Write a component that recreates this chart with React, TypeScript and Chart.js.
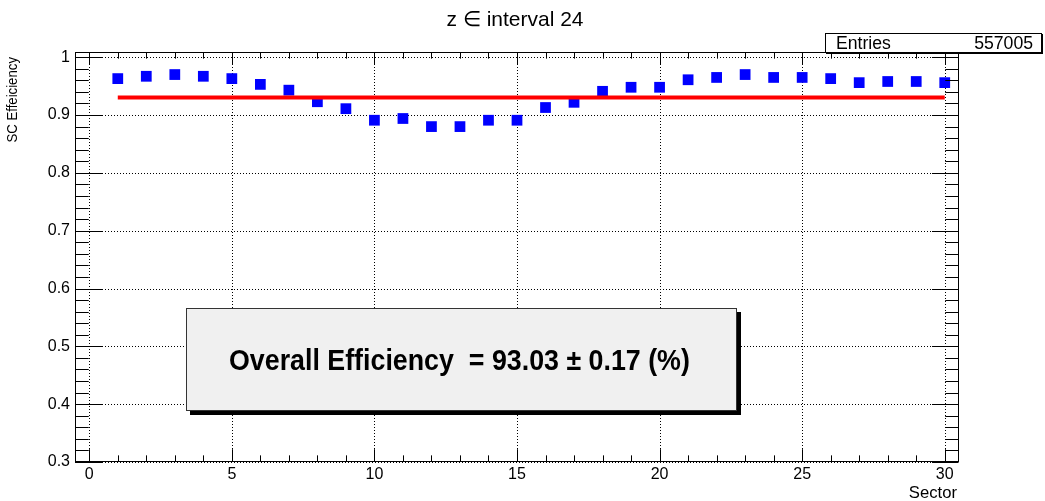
import React, { useEffect, useRef } from "react";
import { Chart, registerables } from "chart.js";

Chart.register(...registerables);

// ---------- data ----------
const SECTORS = [1, 2, 3, 4, 5, 6, 7, 8, 9, 10, 11, 12, 13, 14, 15, 16, 17, 18, 19, 20, 21, 22, 23, 24, 25, 26, 27, 28, 29, 30];
const EFFICIENCY = [
  0.963, 0.967, 0.970, 0.967, 0.963, 0.953, 0.943, 0.923, 0.911, 0.891,
  0.894, 0.880, 0.880, 0.891, 0.891, 0.913, 0.922, 0.941, 0.948, 0.948,
  0.961, 0.965, 0.970, 0.965, 0.965, 0.963, 0.956, 0.958, 0.958, 0.956,
];
const FIT_X = [1, 30];
const OVERALL_EFF = 0.9303;

const X_TICKS = [0, 5, 10, 15, 20, 25, 30];
const X_TICK_LABELS = ["0", "5", "10", "15", "20", "25", "30"];
const Y_TICKS = [0.3, 0.4, 0.5, 0.6, 0.7, 0.8, 0.9, 1.0];
const Y_TICK_LABELS = ["0.3", "0.4", "0.5", "0.6", "0.7", "0.8", "0.9", "1"];

const X_MIN = -0.5;
const X_MAX = 30.5;
const Y_MIN = 0.3;
const Y_MAX = 1.009;

const TITLE = "z \u2208 interval 24";
const X_TITLE = "Sector";
const Y_TITLE = "SC Effeiciency";
const STATS_LABEL = "Entries";
const STATS_VALUE = "557005";
const RESULT_TEXT = "Overall Efficiency  = 93.03 \u00B1 0.17 (%)";

const FONT = "'Liberation Sans', Arial, Helvetica, sans-serif";

function drawText(
  ctx: CanvasRenderingContext2D,
  text: string,
  x: number,
  y: number,
  font: string,
  align: CanvasTextAlign,
  sx: number,
  baseline: CanvasTextBaseline = "alphabetic"
) {
  ctx.save();
  ctx.font = font;
  ctx.fillStyle = "#000";
  ctx.textAlign = align;
  ctx.textBaseline = baseline;
  ctx.translate(x, y);
  ctx.scale(sx, 1);
  ctx.fillText(text, 0, 0);
  ctx.restore();
}

const rootStyle = {
  id: "rootStyle",
  beforeDatasetsDraw(chart: any) {
    const ctx: CanvasRenderingContext2D = chart.ctx;
    const { left, right, top, bottom } = chart.chartArea;
    const xs = chart.scales.x;
    const ys = chart.scales.y;
    ctx.save();
    ctx.strokeStyle = "#000";
    ctx.lineWidth = 1;
    ctx.setLineDash([1, 2]);
    for (const v of X_TICKS) {
      const px = Math.round(xs.getPixelForValue(v)) + 0.5;
      ctx.beginPath();
      ctx.moveTo(px, top);
      ctx.lineTo(px, bottom);
      ctx.stroke();
    }
    for (const v of Y_TICKS) {
      const py = Math.round(ys.getPixelForValue(v)) + 0.5;
      ctx.beginPath();
      ctx.moveTo(left, py);
      ctx.lineTo(right, py);
      ctx.stroke();
    }
    ctx.restore();
  },
  afterDatasetsDraw(chart: any) {
    const ctx: CanvasRenderingContext2D = chart.ctx;
    const { left, right, top, bottom } = chart.chartArea;
    const xs = chart.scales.x;
    const ys = chart.scales.y;
    const W = right - left;
    const H = bottom - top;
    const xMajor = 0.03 * H;
    const yMajor = 0.03 * W;

    ctx.save();
    ctx.strokeStyle = "#000";
    ctx.lineWidth = 1;
    ctx.setLineDash([]);
    // frame
    const fl = Math.round(left) + 0.5;
    const fr = Math.round(right) - 0.5;
    const ft = Math.round(top) + 0.5;
    const fb = Math.round(bottom) - 0.5;
    ctx.strokeRect(fl, ft, fr - fl, fb - ft);

    // x ticks (bottom and top)
    ctx.beginPath();
    for (let k = 0; k <= 30; k++) {
      const px = Math.round(xs.getPixelForValue(k)) + 0.5;
      const len = k % 5 === 0 ? xMajor : xMajor / 2;
      ctx.moveTo(px, fb);
      ctx.lineTo(px, fb - len);
      ctx.moveTo(px, ft);
      ctx.lineTo(px, ft + len);
    }
    // y ticks (left and right)
    for (let k = 0; k <= 40; k++) {
      const v = Y_MIN + k * 0.02;
      if (v > Y_MAX + 1e-9) break;
      const py = Math.round(ys.getPixelForValue(v)) + 0.5;
      const len = k % 5 === 0 ? yMajor : yMajor / 2;
      ctx.moveTo(fl, py);
      ctx.lineTo(fl + len, py);
      ctx.moveTo(fr, py);
      ctx.lineTo(fr - len, py);
    }
    ctx.stroke();

    // result box with shadow
    const bx = 186, by = 308, bw = 551, bh = 103, sh = 4;
    ctx.fillStyle = "#000";
    ctx.fillRect(bx + sh, by + sh, bw, bh);
    ctx.fillStyle = "#f0f0f0";
    ctx.fillRect(bx, by, bw, bh);
    ctx.strokeStyle = "#333";
    ctx.lineWidth = 1;
    ctx.strokeRect(bx + 0.5, by + 0.5, bw - 1, bh - 1);
    drawText(ctx, RESULT_TEXT, 229, 370, `bold 29px ${FONT}`, "left", 0.924);

    // stats box
    const sx0 = 825, sy0 = 33, sw = 217, shh = 20;
    ctx.fillStyle = "#000";
    ctx.fillRect(sx0 + 1, sy0 + 1, sw, shh);
    ctx.fillStyle = "#fff";
    ctx.fillRect(sx0, sy0, sw, shh);
    ctx.strokeStyle = "#000";
    ctx.strokeRect(sx0 + 0.5, sy0 + 0.5, sw - 1, shh - 1);
    drawText(ctx, STATS_LABEL, 836, 49, `18px ${FONT}`, "left", 0.98);
    drawText(ctx, STATS_VALUE, 1033, 49, `18px ${FONT}`, "right", 0.98);

    // title
    drawText(ctx, TITLE, 515, 26, `21px ${FONT}`, "center", 1);
    // x title
    drawText(ctx, X_TITLE, 957, 498, `17px ${FONT}`, "right", 0.98);
    // y title (rotated)
    ctx.save();
    ctx.translate(13, 57);
    ctx.rotate(-Math.PI / 2);
    ctx.scale(0.88, 1);
    ctx.font = `15px ${FONT}`;
    ctx.fillStyle = "#000";
    ctx.textAlign = "right";
    ctx.textBaseline = "middle";
    ctx.fillText(Y_TITLE, 0, 0);
    ctx.restore();

    ctx.restore();
  },
};

export default function App() {
  const canvasRef = useRef<HTMLCanvasElement | null>(null);

  useEffect(() => {
    const canvas = canvasRef.current;
    if (!canvas) return;
    const chart = new Chart(canvas, {
      type: "scatter",
      data: {
        datasets: [
          {
            type: "line",
            label: "Overall",
            data: FIT_X.map((x) => ({ x, y: OVERALL_EFF })),
            borderColor: "#ff0000",
            backgroundColor: "#ff0000",
            borderWidth: 4,
            pointRadius: 0,
            fill: false,
            order: 0,
          } as any,
          {
            type: "scatter",
            label: "Efficiency",
            data: SECTORS.map((s, i) => ({ x: s, y: EFFICIENCY[i] })),
            pointStyle: "rect",
            pointRadius: 7.6,
            pointHoverRadius: 7.6,
            backgroundColor: "#0000ff",
            borderWidth: 0,
            order: 1,
          } as any,
        ],
      },
      options: {
        animation: false,
        responsive: false,
        maintainAspectRatio: false,
        devicePixelRatio: 1,
        layout: { padding: { top: 52, right: 86, left: 0, bottom: 0 } },
        plugins: {
          legend: { display: false },
          tooltip: { enabled: false },
          title: { display: false },
        },
        scales: {
          x: {
            type: "linear",
            min: X_MIN,
            max: X_MAX,
            afterBuildTicks: (s: any) => {
              s.ticks = X_TICKS.map((v) => ({ value: v }));
            },
            afterFit: (s: any) => {
              s.height = 39;
            },
            grid: { display: false, drawTicks: false },
            border: { display: false },
            ticks: {
              autoSkip: false,
              maxRotation: 0,
              padding: 3,
              color: "#000",
              font: { family: FONT, size: 16 },
              callback: (_v: any, i: number) => X_TICK_LABELS[i],
            },
          },
          y: {
            type: "linear",
            min: Y_MIN,
            max: Y_MAX,
            afterBuildTicks: (s: any) => {
              s.ticks = Y_TICKS.map((v) => ({ value: v }));
            },
            afterFit: (s: any) => {
              s.width = 75;
            },
            grid: { display: false, drawTicks: false },
            border: { display: false },
            ticks: {
              autoSkip: false,
              padding: 5,
              color: "#000",
              font: { family: FONT, size: 16 },
              callback: (_v: any, i: number) => Y_TICK_LABELS[i],
            },
          },
        },
      },
      plugins: [rootStyle],
    });
    return () => chart.destroy();
  }, []);

  return (
    <div style={{ position: "fixed", left: 0, top: 0, width: 1045, height: 501, background: "#fff" }}>
      <canvas ref={canvasRef} width={1045} height={501} style={{ display: "block", width: 1045, height: 501 }} />
    </div>
  );
}
